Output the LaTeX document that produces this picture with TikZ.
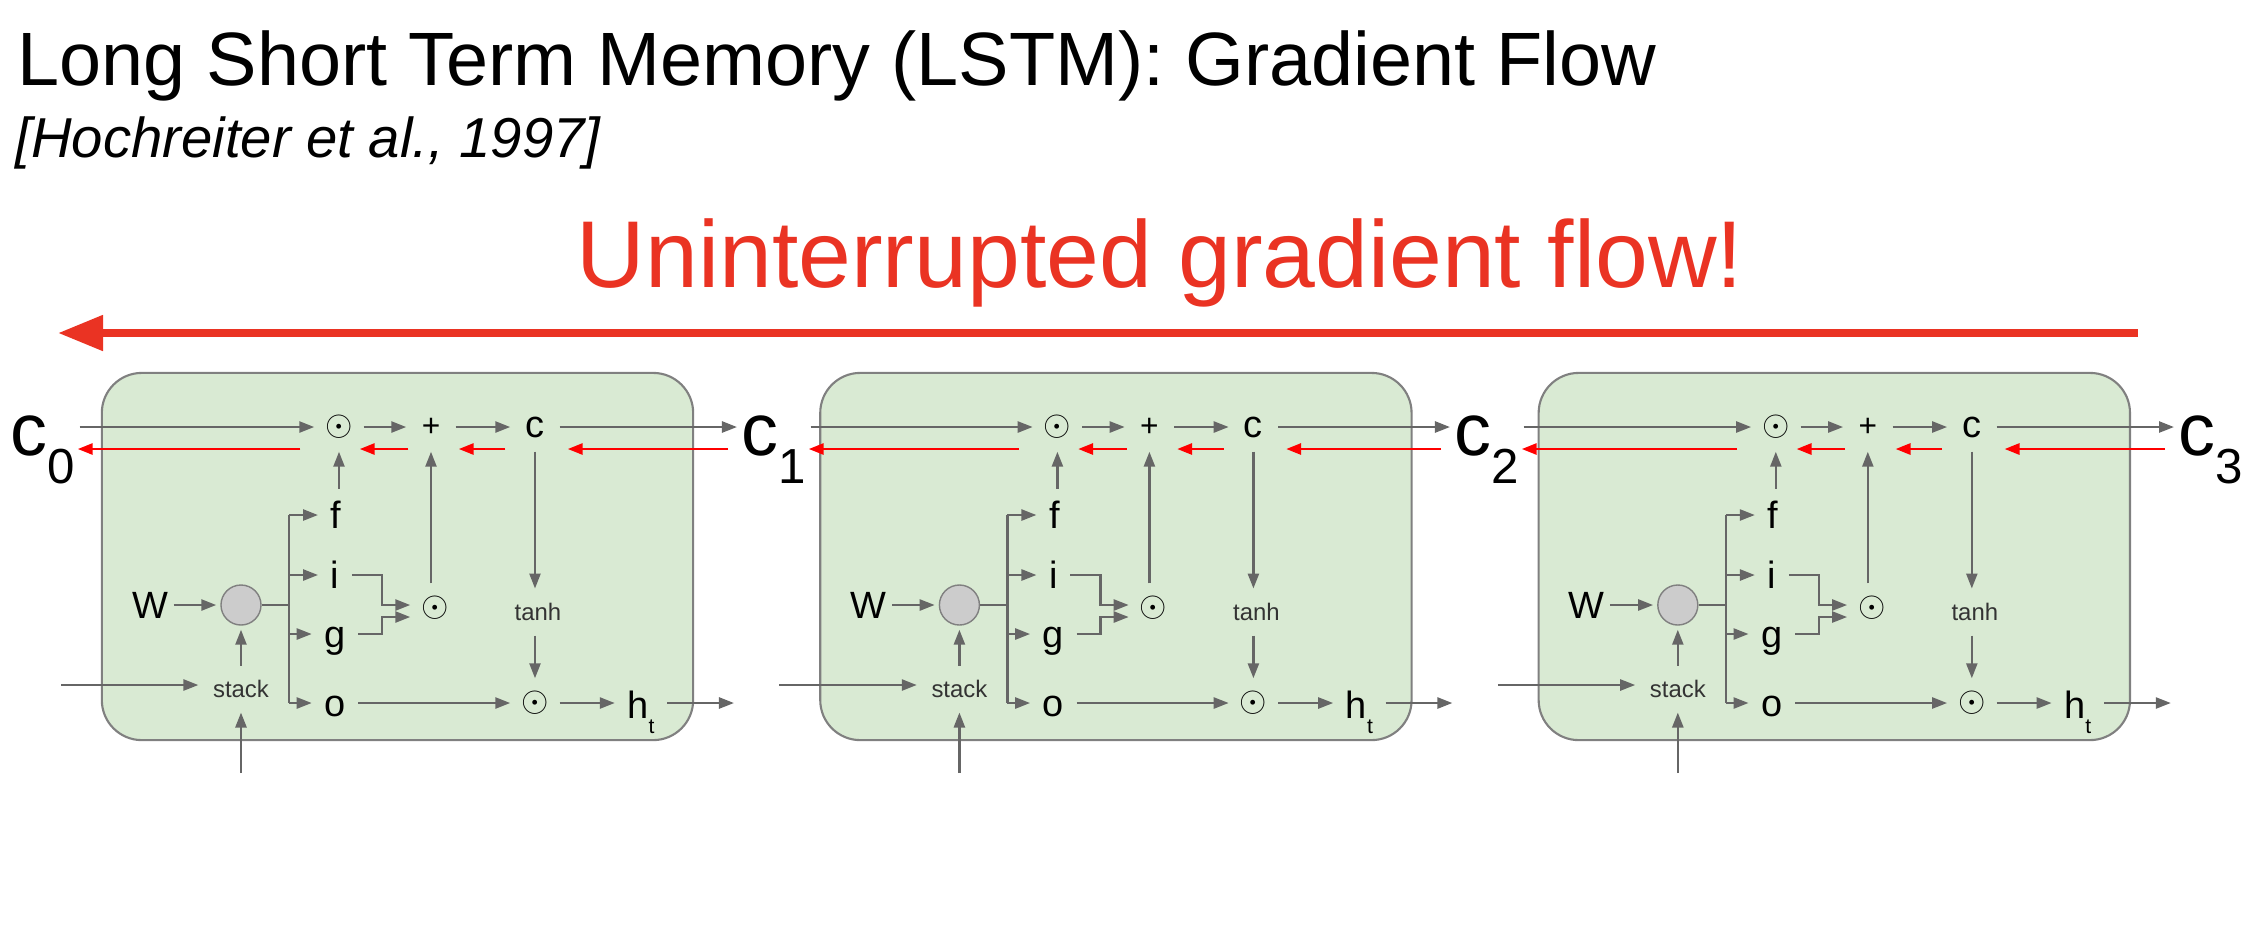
\documentclass[tikz,border=0pt]{standalone}
\usepackage{fontspec}
\setmainfont{Liberation Sans}
\usetikzlibrary{arrows.meta,calc}
\definecolor{cellgreen}{HTML}{D9EAD3}
\definecolor{wiregray}{HTML}{666666}
\definecolor{edgegray}{HTML}{808080}
\definecolor{flowred}{HTML}{EA3323}
\definecolor{backred}{HTML}{FF0000}
\newcommand{\fsz}[1]{\fontsize{#1}{#1}\selectfont}
\begin{document}
\begin{tikzpicture}[x=0.01cm, y=-0.01cm, >={Triangle[length=1.5mm,width=1.1mm]}]
  \tikzset{
    flow/.style={->, draw=wiregray, line width=0.7pt, shorten >=0.4mm, shorten <=0.4mm},
    wire/.style={draw=wiregray, line width=0.7pt},
    back/.style={->, draw=backred, line width=0.8pt},
    op/.style={circle, inner sep=0pt, minimum size=4mm, font=\fsz{10pt}},
    gate/.style={inner sep=0.8mm, text height=2.7mm, text depth=0mm, font=\fsz{10.8pt}},
    tag/.style={inner sep=1mm, text=black!80, font=\fsz{6.8pt}},
    cell/.style={draw=edgegray, line width=0.6pt, fill=cellgreen, rounded corners=4mm, minimum width=59.1mm, minimum height=36.7mm},
    clabel/.style={inner sep=0pt, anchor=base west, font=\fsz{21pt}}
  }
  \useasboundingbox (0,0) rectangle (2250,938);

  % heading
  \node[anchor=base west, inner sep=0pt, font=\fsz{21.5pt}] (title) at (17,85) {Long Short Term Memory (LSTM): Gradient Flow};
  \node[anchor=base west, inner sep=0pt, font=\fsz{16pt}\itshape] (cite) at (15,157) {[Hochreiter et al., 1997]};
  \node[anchor=base, inner sep=0pt, text=flowred, font=\fsz{27pt}] (slogan) at (1160,287) {Uninterrupted gradient flow!};
  \coordinate (gradstart) at (2138,333);
  \coordinate (gradend) at (58,333);
  \draw[-{Triangle[length=4.5mm,width=3.4mm]}, flowred, line width=0.8mm] (gradstart) -- (gradend);

  % cell states
  \node[clabel] (clab0) at (10,455) {c\raisebox{-2.8mm}{\fsz{14pt}0}};
  \node[clabel] (clab1) at (741,455) {c\raisebox{-2.8mm}{\fsz{14pt}1}};
  \node[clabel] (clab2) at (1454,455) {c\raisebox{-2.8mm}{\fsz{14pt}2}};
  \node[clabel] (clab3) at (2178,455) {c\raisebox{-2.8mm}{\fsz{14pt}3}};

  \foreach \k in {0,1,2} {
    \pgfmathtruncatemacro{\nxt}{\k+1}
    \begin{scope}[xshift=\k*7.18cm]
      \node[cell] (box\k) at (397.5,556.5) {};
      \node[op] (fm\k) at (339,427) {$\odot$};
      \node[op, font=\fsz{9pt}] (add\k) at (431,427) {+};
      \node[op, font=\fsz{10.8pt}] (cc\k) at (535,427) {c};
      \node[gate] (f\k) at (336,515) {f};
      \node[gate] (i\k) at (335,575) {i};
      \node[gate] (g\k) at (335,634) {g};
      \node[gate] (o\k) at (335,703) {o};
      \node[circle, draw=edgegray, fill=black!20, minimum size=4mm, inner sep=0pt] (cat\k) at (241,605) {};
      \node[inner sep=0.1mm, font=\fsz{10.8pt}] (w\k) at (150,605) {W};
      \node[tag] (stack\k) at (241,689) {stack};
      \node[op] (im\k) at (435,608) {$\odot$};
      \node[tag] (tanh\k) at (538,612) {tanh};
      \node[op] (om\k) at (535,703) {$\odot$};
      \node[gate, text height=3mm] (h\k) at (641,703) {h\raisebox{-1.5mm}{\fsz{6pt}t}};
      \coordinate (xin\k) at (57,685);
      \coordinate (hin\k) at (241,777);
      \coordinate (hout\k) at (738,703);
      \coordinate (br\k) at (289,605);

      % forward
      \draw[flow] (clab\k.east |- fm\k) -- (fm\k);
      \draw[flow] (fm\k) -- (add\k);
      \draw[flow] (add\k) -- (cc\k);
      \draw[flow] (cc\k) -- (cc\k -| clab\nxt.west);
      \draw[flow] (fm\k |- f\k.north) -- (fm\k);
      \draw[flow] (add\k |- im\k.north) -- (add\k);
      \draw[flow] (w\k) -- (cat\k);
      \draw[flow] (stack\k) -- (cat\k);
      \draw[flow] (xin\k) -- (xin\k -| stack\k.west);
      \draw[flow] (hin\k) -- (stack\k);
      \draw[wire] (cat\k) -- (br\k);
      \draw[wire] (br\k |- f\k) -- (br\k |- o\k);
      \foreach \gt in {f,i,g,o}
        \draw[flow, shorten <=0pt] (br\k |- \gt\k) -- (\gt\k);
      \draw[flow] (i\k) -- ++(47,0) |- ([yshift=0.3mm]im\k.west);
      \draw[flow] (g\k) -- ++(47,0) |- ([yshift=-0.9mm]im\k.west);
      \draw[flow] (cc\k) -- (cc\k |- tanh\k.north);
      \draw[flow] (om\k |- tanh\k.south) -- (om\k);
      \draw[flow] (o\k) -- (om\k);
      \draw[flow] (om\k) -- (h\k);
      \draw[flow] (h\k) -- (hout\k);

      % backward
      \draw[back] ($(clab\nxt.west |- cc\k)+(-13,22)$) -- ($(cc\k.east)+(12,22)$);
      \draw[back] ($(cc\k.west)+(-9,22)$) -- ($(add\k.east)+(7,22)$);
      \draw[back] ($(add\k.west)+(-2,22)$) -- ($(fm\k.east)+(0,22)$);
      \draw[back] ($(fm\k.west)+(-18,22)$) -- ($(clab\k.east |- fm\k)+(2,22)$);
    \end{scope}
  }
\end{tikzpicture}
\end{document}
